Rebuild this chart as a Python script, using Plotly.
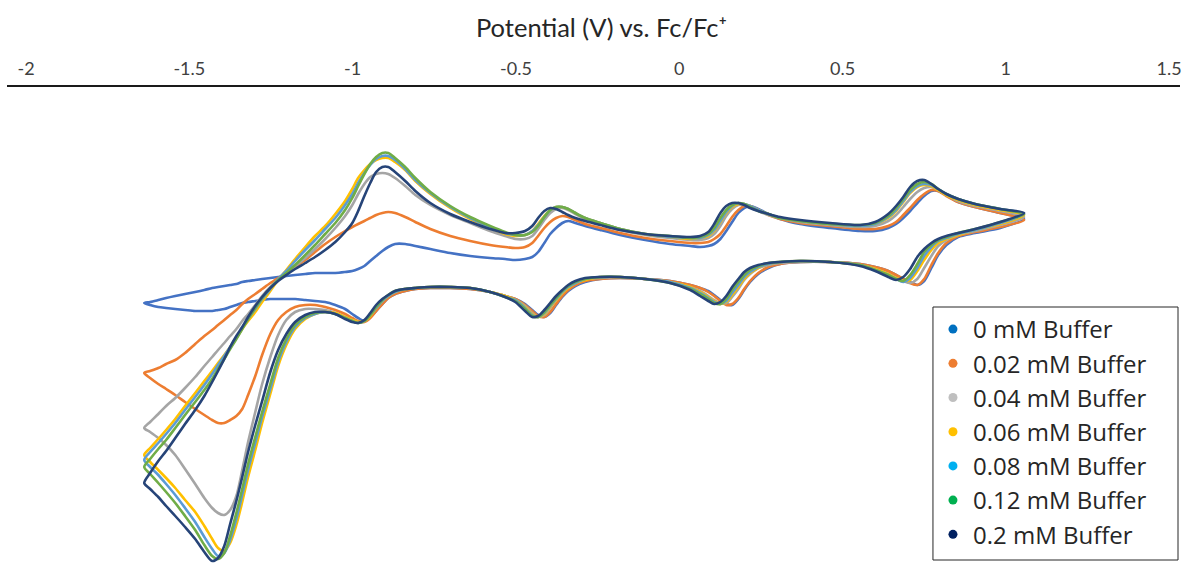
import plotly.graph_objects as go

# Potential grid (V vs. Fc/Fc+) shared by the forward and reverse sweeps
potential_v = [
    -1.638, -1.620, -1.595, -1.571, -1.543, -1.513, -1.482, -1.454, -1.430, -1.412,
    -1.393, -1.375, -1.356, -1.338, -1.320, -1.298, -1.277, -1.252, -1.228, -1.203,
    -1.176, -1.145, -1.115, -1.084, -1.053, -1.023, -1.001, -0.983, -0.964, -0.946,
    -0.928, -0.909, -0.891, -0.870, -0.839, -0.808, -0.762, -0.701, -0.640, -0.579,
    -0.533, -0.502, -0.472, -0.450, -0.432, -0.413, -0.395, -0.377, -0.358, -0.340,
    -0.318, -0.288, -0.242, -0.181, -0.104, -0.028, 0.034, 0.064, 0.089, 0.107,
    0.126, 0.144, 0.162, 0.181, 0.199, 0.217, 0.242, 0.273, 0.309, 0.370,
    0.462, 0.554, 0.600, 0.640, 0.664, 0.686, 0.707, 0.729, 0.750, 0.772,
    0.793, 0.818, 0.854, 0.906, 0.983, 1.056,
]

# Current (uA): "fwd" = positive-going sweep, "rev" = negative-going sweep
cur_0_fwd = [
    -3.5, -3.4, -3.2, -3.0, -2.8, -2.6, -2.4, -2.2, -2.0, -1.9,
    -1.8, -1.7, -1.6, -1.4, -1.3, -1.2, -1.1, -1.0, -0.9, -0.8,
    -0.7, -0.6, -0.5, -0.5, -0.5, -0.4, -0.3, -0.1, 0.2, 0.7,
    1.2, 1.7, 2.1, 2.4, 2.4, 2.2, 1.9, 1.5, 1.2, 1.0,
    0.9, 0.8, 0.9, 1.1, 1.6, 2.5, 3.4, 4.0, 4.5, 4.7,
    4.5, 4.2, 3.8, 3.3, 2.8, 2.4, 2.2, 2.1, 2.2, 2.4,
    2.9, 3.7, 4.6, 5.5, 6.0, 6.2, 5.9, 5.4, 4.9, 4.4,
    4.0, 3.7, 3.7, 4.0, 4.4, 5.0, 5.7, 6.5, 7.2, 7.7,
    7.7, 7.3, 6.6, 6.1, 5.5, 4.9,
]
cur_0_rev = [
    -3.5, -3.7, -3.9, -4.0, -4.1, -4.2, -4.3, -4.3, -4.3, -4.2,
    -4.1, -3.9, -3.7, -3.5, -3.4, -3.3, -3.2, -3.1, -3.1, -3.1,
    -3.1, -3.2, -3.3, -3.4, -3.7, -4.1, -4.6, -5.0, -5.3, -4.9,
    -4.3, -3.6, -3.0, -2.6, -2.3, -2.1, -2.0, -2.0, -2.1, -2.4,
    -2.8, -3.1, -3.6, -4.2, -4.7, -4.9, -4.5, -3.7, -2.9, -2.3,
    -1.8, -1.4, -1.1, -1.0, -1.1, -1.3, -1.7, -2.0, -2.3, -2.7,
    -3.2, -3.6, -3.7, -3.1, -2.2, -1.4, -0.6, 0.0, 0.4, 0.6,
    0.6, 0.4, 0.1, -0.3, -0.7, -1.1, -1.4, -1.7, -1.3, 0.0,
    1.3, 2.3, 3.1, 3.5, 4.0, 4.9,
]

cur_002_fwd = [
    -10.5, -10.3, -10.0, -9.6, -9.2, -8.5, -7.6, -6.8, -6.2, -5.7,
    -5.2, -4.7, -4.2, -3.6, -3.1, -2.6, -2.1, -1.5, -1.0, -0.5,
    0.1, 0.8, 1.6, 2.4, 3.1, 3.7, 4.1, 4.4, 4.7, 5.0,
    5.3, 5.5, 5.6, 5.5, 5.1, 4.6, 3.9, 3.2, 2.7, 2.3,
    2.1, 2.0, 2.1, 2.5, 3.2, 4.0, 4.6, 5.0, 5.2, 5.1,
    4.8, 4.4, 4.0, 3.5, 3.0, 2.7, 2.5, 2.5, 2.6, 2.9,
    3.4, 4.2, 5.1, 5.8, 6.2, 6.2, 5.8, 5.3, 4.9, 4.5,
    4.2, 3.9, 3.9, 4.2, 4.6, 5.3, 6.0, 6.8, 7.4, 7.8,
    7.7, 7.2, 6.6, 6.1, 5.5, 4.8,
]
cur_002_rev = [
    -10.5, -11.0, -11.6, -12.1, -12.7, -13.4, -14.1, -14.7, -15.2, -15.5,
    -15.5, -15.2, -14.8, -14.1, -12.7, -10.8, -8.7, -6.6, -5.2, -4.4,
    -3.9, -3.7, -3.7, -3.9, -4.2, -4.6, -5.0, -5.3, -5.4, -5.0,
    -4.3, -3.6, -3.0, -2.6, -2.3, -2.1, -2.0, -2.0, -2.1, -2.4,
    -2.8, -3.1, -3.7, -4.3, -4.8, -4.9, -4.4, -3.6, -2.8, -2.2,
    -1.7, -1.3, -1.1, -1.0, -1.1, -1.3, -1.7, -2.0, -2.4, -2.8,
    -3.3, -3.7, -3.6, -3.0, -2.1, -1.3, -0.5, 0.1, 0.4, 0.6,
    0.6, 0.4, 0.1, -0.3, -0.7, -1.1, -1.5, -1.7, -1.1, 0.3,
    1.5, 2.5, 3.2, 3.6, 4.1, 4.8,
]

cur_004_fwd = [
    -16.0, -15.4, -14.6, -13.8, -13.0, -12.0, -10.9, -9.8, -8.9, -8.2,
    -7.5, -6.8, -6.1, -5.3, -4.6, -3.7, -2.8, -1.9, -1.2, -0.6,
    0.2, 1.0, 1.9, 2.9, 4.0, 5.2, 6.3, 7.4, 8.4, 9.1,
    9.4, 9.5, 9.4, 9.0, 8.2, 7.3, 6.3, 5.3, 4.5, 3.7,
    3.2, 2.9, 2.9, 3.2, 3.9, 4.8, 5.5, 5.9, 6.0, 5.8,
    5.4, 4.9, 4.4, 3.8, 3.3, 3.0, 2.8, 2.8, 3.0, 3.4,
    4.2, 5.2, 5.9, 6.3, 6.3, 6.1, 5.7, 5.3, 5.0, 4.6,
    4.3, 4.1, 4.2, 4.7, 5.3, 6.1, 6.9, 7.6, 8.0, 8.1,
    7.8, 7.3, 6.7, 6.2, 5.7, 5.1,
]
cur_004_rev = [
    -16.0, -16.4, -17.0, -17.7, -18.7, -20.1, -21.6, -23.0, -24.0, -24.5,
    -24.7, -24.2, -22.8, -20.2, -17.4, -14.4, -11.6, -8.9, -6.7, -5.2,
    -4.4, -4.1, -4.1, -4.2, -4.5, -4.9, -5.2, -5.4, -5.3, -4.7,
    -3.9, -3.2, -2.7, -2.3, -2.1, -2.0, -1.9, -1.9, -2.0, -2.4,
    -2.8, -3.2, -3.8, -4.5, -4.9, -4.7, -4.0, -3.2, -2.5, -1.9,
    -1.5, -1.1, -1.0, -0.9, -1.1, -1.4, -1.9, -2.3, -2.8, -3.2,
    -3.5, -3.5, -2.9, -2.1, -1.2, -0.6, 0.0, 0.3, 0.5, 0.6,
    0.6, 0.3, -0.1, -0.6, -1.0, -1.3, -1.5, -1.1, 0.0, 1.2,
    2.2, 2.8, 3.3, 3.7, 4.3, 5.1,
]

cur_006_fwd = [
    -18.7, -18.0, -17.1, -16.2, -15.1, -13.8, -12.5, -11.3, -10.3, -9.5,
    -8.7, -7.9, -7.0, -6.1, -5.3, -4.4, -3.4, -2.3, -1.2, -0.2,
    0.9, 2.1, 3.2, 4.2, 5.4, 6.7, 7.9, 9.0, 9.8, 10.4,
    10.8, 11.0, 11.0, 10.6, 9.8, 8.7, 7.4, 6.0, 4.9, 4.0,
    3.4, 3.2, 3.3, 3.7, 4.4, 5.2, 5.8, 6.1, 6.1, 5.9,
    5.5, 5.0, 4.5, 3.9, 3.4, 3.1, 2.9, 3.0, 3.2, 3.7,
    4.6, 5.5, 6.1, 6.4, 6.4, 6.2, 5.8, 5.4, 5.0, 4.7,
    4.4, 4.2, 4.4, 5.0, 5.7, 6.6, 7.5, 8.1, 8.3, 8.2,
    7.8, 7.3, 6.8, 6.3, 5.8, 5.3,
]
cur_006_rev = [
    -18.7, -19.4, -20.2, -21.0, -22.0, -23.2, -24.4, -25.8, -27.1, -28.0,
    -28.3, -27.5, -25.7, -23.4, -20.9, -18.2, -15.5, -12.6, -9.8, -7.7,
    -6.1, -5.1, -4.6, -4.4, -4.5, -4.9, -5.2, -5.4, -5.3, -4.8,
    -4.0, -3.3, -2.8, -2.4, -2.1, -2.0, -1.9, -1.9, -2.0, -2.4,
    -2.8, -3.2, -3.9, -4.6, -4.9, -4.6, -3.9, -3.2, -2.5, -2.0,
    -1.5, -1.2, -0.9, -0.9, -1.1, -1.4, -1.9, -2.4, -2.9, -3.3,
    -3.6, -3.4, -2.7, -1.9, -1.1, -0.5, 0.0, 0.4, 0.6, 0.7,
    0.6, 0.3, -0.1, -0.6, -1.0, -1.3, -1.2, -0.3, 0.8, 1.8,
    2.5, 2.9, 3.3, 3.8, 4.4, 5.3,
]

cur_008_fwd = [
    -19.2, -18.4, -17.5, -16.6, -15.5, -14.2, -12.9, -11.7, -10.6, -9.7,
    -8.8, -7.9, -7.0, -6.0, -5.1, -4.1, -3.1, -2.1, -1.1, -0.3,
    0.7, 1.8, 2.8, 3.9, 5.0, 6.3, 7.4, 8.5, 9.5, 10.3,
    10.9, 11.2, 11.2, 10.8, 9.9, 8.8, 7.5, 6.1, 5.0, 4.1,
    3.5, 3.3, 3.3, 3.7, 4.3, 5.1, 5.8, 6.1, 6.1, 5.9,
    5.5, 5.0, 4.5, 3.9, 3.4, 3.1, 3.0, 3.0, 3.3, 3.8,
    4.7, 5.6, 6.2, 6.5, 6.4, 6.2, 5.8, 5.4, 5.0, 4.7,
    4.4, 4.2, 4.4, 5.1, 5.8, 6.7, 7.6, 8.2, 8.4, 8.3,
    7.9, 7.4, 6.9, 6.4, 5.9, 5.4,
]
cur_008_rev = [
    -19.2, -19.9, -20.7, -21.6, -22.7, -24.0, -25.4, -26.9, -28.1, -28.8,
    -28.5, -27.2, -25.1, -22.7, -20.2, -17.5, -14.9, -12.1, -9.4, -7.4,
    -5.9, -5.0, -4.6, -4.4, -4.6, -5.0, -5.3, -5.5, -5.3, -4.7,
    -4.0, -3.3, -2.8, -2.4, -2.1, -2.0, -1.9, -1.9, -2.0, -2.4,
    -2.9, -3.2, -4.0, -4.7, -4.9, -4.5, -3.8, -3.1, -2.4, -1.9,
    -1.5, -1.1, -0.9, -0.9, -1.1, -1.4, -2.0, -2.5, -3.0, -3.4,
    -3.6, -3.3, -2.5, -1.7, -0.9, -0.4, 0.1, 0.4, 0.6, 0.7,
    0.6, 0.3, -0.2, -0.7, -1.1, -1.4, -1.0, 0.0, 1.2, 2.1,
    2.7, 3.0, 3.4, 3.8, 4.5, 5.4,
]

cur_012_fwd = [
    -19.9, -19.1, -18.1, -17.2, -16.0, -14.7, -13.4, -12.2, -11.1, -10.1,
    -9.1, -8.1, -7.1, -6.1, -5.1, -4.0, -3.0, -2.0, -1.2, -0.5,
    0.3, 1.3, 2.3, 3.4, 4.5, 5.8, 7.0, 8.2, 9.4, 10.4,
    11.1, 11.5, 11.5, 11.0, 10.1, 9.0, 7.6, 6.2, 5.1, 4.2,
    3.6, 3.3, 3.3, 3.6, 4.2, 5.1, 5.8, 6.1, 6.1, 5.9,
    5.5, 5.0, 4.5, 3.9, 3.4, 3.2, 3.0, 3.1, 3.4, 4.0,
    5.0, 5.8, 6.3, 6.5, 6.4, 6.1, 5.7, 5.4, 5.0, 4.7,
    4.4, 4.3, 4.5, 5.2, 6.0, 6.9, 7.8, 8.4, 8.6, 8.4,
    7.9, 7.4, 6.9, 6.4, 5.9, 5.4,
]
cur_012_rev = [
    -19.9, -20.6, -21.5, -22.4, -23.5, -24.8, -26.2, -27.7, -28.8, -29.1,
    -28.5, -26.8, -24.5, -22.1, -19.6, -16.9, -14.4, -11.6, -9.0, -7.1,
    -5.7, -4.9, -4.5, -4.4, -4.6, -5.0, -5.3, -5.5, -5.3, -4.7,
    -3.9, -3.2, -2.7, -2.3, -2.1, -2.0, -1.9, -1.9, -2.0, -2.4,
    -2.9, -3.3, -4.1, -4.8, -4.9, -4.4, -3.7, -3.0, -2.3, -1.8,
    -1.4, -1.1, -0.9, -0.9, -1.1, -1.5, -2.1, -2.6, -3.1, -3.5,
    -3.6, -3.1, -2.2, -1.4, -0.7, -0.2, 0.2, 0.5, 0.6, 0.7,
    0.6, 0.3, -0.2, -0.7, -1.1, -1.3, -0.7, 0.4, 1.6, 2.3,
    2.8, 3.1, 3.5, 3.9, 4.6, 5.4,
]

cur_02_fwd = [
    -21.5, -20.5, -19.3, -18.3, -17.0, -15.6, -14.2, -12.8, -11.4, -10.3,
    -9.1, -7.9, -6.8, -5.9, -4.9, -3.8, -2.9, -2.0, -1.3, -0.7,
    -0.1, 0.5, 1.1, 1.8, 2.6, 3.6, 4.5, 5.7, 7.2, 8.5,
    9.6, 10.1, 10.1, 9.6, 8.7, 7.7, 6.5, 5.4, 4.6, 3.9,
    3.5, 3.5, 3.7, 4.2, 5.0, 5.7, 6.0, 5.9, 5.6, 5.3,
    5.0, 4.7, 4.3, 3.8, 3.4, 3.2, 3.1, 3.2, 3.6, 4.4,
    5.5, 6.2, 6.5, 6.5, 6.3, 6.0, 5.7, 5.4, 5.1, 4.8,
    4.5, 4.3, 4.6, 5.4, 6.2, 7.1, 8.1, 8.7, 8.8, 8.4,
    7.9, 7.4, 6.9, 6.4, 5.9, 5.5,
]
cur_02_rev = [
    -21.5, -22.1, -22.9, -23.8, -24.8, -25.9, -27.1, -28.4, -29.3, -29.0,
    -27.8, -25.6, -23.3, -20.9, -18.4, -15.7, -13.3, -10.4, -8.2, -6.6,
    -5.4, -4.7, -4.4, -4.4, -4.6, -5.1, -5.4, -5.5, -5.2, -4.5,
    -3.7, -3.1, -2.7, -2.3, -2.1, -2.0, -1.9, -1.9, -2.0, -2.4,
    -2.9, -3.4, -4.3, -4.9, -4.8, -4.2, -3.5, -2.8, -2.2, -1.7,
    -1.3, -1.0, -0.9, -0.9, -1.1, -1.5, -2.2, -2.8, -3.3, -3.6,
    -3.4, -2.8, -1.9, -1.1, -0.4, 0.0, 0.3, 0.5, 0.6, 0.7,
    0.6, 0.2, -0.3, -0.9, -1.2, -0.9, -0.1, 1.1, 1.9, 2.5,
    2.9, 3.2, 3.5, 3.9, 4.6, 5.5,
]

series_names = [
    "0 mM Buffer", "0.02 mM Buffer", "0.04 mM Buffer", "0.06 mM Buffer",
    "0.08 mM Buffer", "0.12 mM Buffer", "0.2 mM Buffer",
]
line_colors = ["#4472C4", "#ED7D31", "#A5A5A5", "#FFC000", "#5B9BD5", "#70AD47", "#264478"]
marker_colors = ["#0070C0", "#ED7D31", "#BFBFBF", "#FFC000", "#00B0F0", "#00B050", "#002060"]
sweeps = [
    (cur_0_fwd, cur_0_rev), (cur_002_fwd, cur_002_rev), (cur_004_fwd, cur_004_rev),
    (cur_006_fwd, cur_006_rev), (cur_008_fwd, cur_008_rev), (cur_012_fwd, cur_012_rev),
    (cur_02_fwd, cur_02_rev),
]

tick_vals = [-2, -1.5, -1, -0.5, 0, 0.5, 1, 1.5]
tick_text = ["-2", "-1.5", "-1", "-0.5", "0", "0.5", "1", "1.5"]

FONT = "Lato, 'Open Sans', sans-serif"
LEGEND_FONT = "'Open Sans', Lato, sans-serif"

fig = go.Figure()

# One closed voltammogram per buffer concentration: forward sweep left->right,
# then the reverse sweep back from the switching potential.
for name, color, (fwd, rev) in zip(series_names, line_colors, sweeps):
    x = potential_v + potential_v[::-1][1:]
    y = fwd + rev[::-1][1:]
    fig.add_trace(go.Scatter(
        x=x, y=y, mode="lines", name=name, showlegend=False,
        line=dict(color=color, width=2.6, shape="spline", smoothing=0.8),
        hoverinfo="skip",
    ))

# Legend entries drawn as dots
for name, mcolor in zip(series_names, marker_colors):
    fig.add_trace(go.Scatter(
        x=[None], y=[None], mode="markers", name=name,
        marker=dict(color=mcolor, size=9),
    ))

# Framed white panel behind the legend
fig.add_shape(
    type="rect", xref="paper", yref="paper",
    x0=0.7894, x1=0.9983, y0=0.0063, y1=0.5378,
    fillcolor="white", line=dict(color="#262626", width=1), layer="above",
)

fig.update_layout(
    width=1185, height=563,
    margin=dict(l=7, r=5, t=87, b=0),
    paper_bgcolor="white", plot_bgcolor="white",
    font=dict(family=FONT, color="#262626"),
    title=dict(
        text="Potential (V) vs. Fc/Fc\u207a",
        x=0.5076, xref="container", xanchor="center",
        y=0.95, yref="container", yanchor="middle",
        font=dict(family=FONT, size=25.5, color="#262626"),
    ),
    xaxis=dict(
        side="top", range=[-2.0582, 1.5333],
        tickmode="array", tickvals=tick_vals, ticktext=tick_text,
        ticks="outside", ticklen=3, tickcolor="rgba(0,0,0,0)",
        tickfont=dict(family=FONT, size=18, color="#404040"),
        showline=True, linecolor="#1a1a1a", linewidth=1.6,
        showgrid=False, zeroline=False,
    ),
    yaxis=dict(visible=False, range=[-29.5, 18.1], showgrid=False, zeroline=False),
    legend=dict(
        x=0.7894, y=0.5378, xanchor="left", yanchor="top",
        bgcolor="rgba(0,0,0,0)", borderwidth=0,
        font=dict(family=LEGEND_FONT, size=24, color="#262626"),
        tracegroupgap=0,
    ),
    showlegend=True,
)

fig.write_html("out.html")
